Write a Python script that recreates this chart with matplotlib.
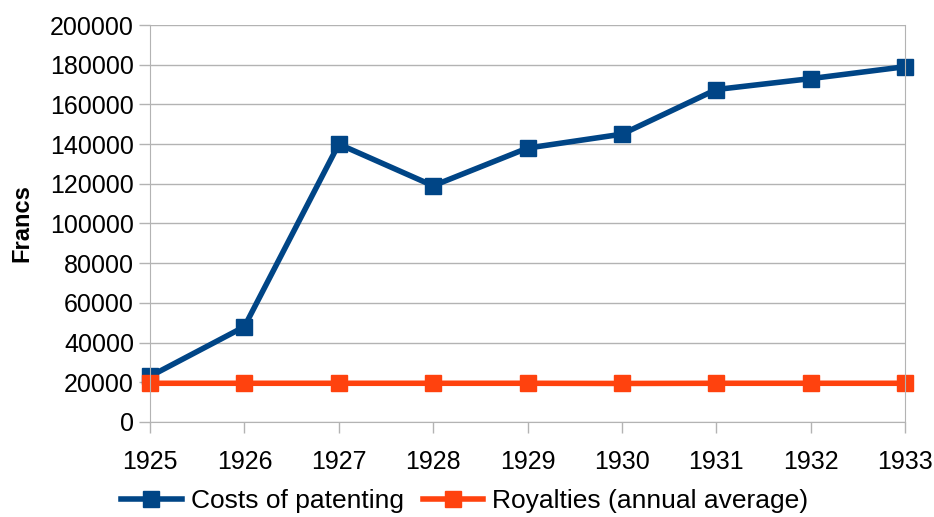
import matplotlib.pyplot as plt

plt.rcParams['font.family'] = ['Liberation Sans', 'DejaVu Sans']

years = [1925, 1926, 1927, 1928, 1929, 1930, 1931, 1932, 1933]
costs = [23000, 48000, 140000, 119000, 138000, 145000, 167500, 173000, 179000]
royalties = [19500, 19500, 19500, 19500, 19500, 19400, 19500, 19500, 19500]

fig = plt.figure(figsize=(9.34, 5.17), dpi=100)
ax = fig.add_axes([0.1606, 0.1838, 0.8084, 0.7678])

ax.plot(years, costs, color='#004586', lw=4, marker='s', ms=11,
        label='Costs of patenting', clip_on=False)
ax.plot(years, royalties, color='#ff420e', lw=4, marker='s', ms=11,
        label='Royalties (annual average)', clip_on=False)

ax.set_xlim(1925, 1933)
ax.set_ylim(0, 200000)
ax.set_xticks(years)
ax.set_yticks(range(0, 200001, 20000))
ax.grid(axis='y', color='#b3b3b3', lw=1)
ax.set_axisbelow(True)
ax.spines['top'].set_visible(False)
for s in ['left', 'bottom', 'right']:
    ax.spines[s].set_color('#b3b3b3')
ax.tick_params(colors='#b3b3b3', labelcolor='black', labelsize=18, length=8, width=1)
ax.tick_params(axis='x', pad=12)
ax.set_ylabel('Francs', fontsize=17, fontweight='bold', labelpad=12)

ax.legend(loc='center', bbox_to_anchor=(0.417, -0.2), ncol=2, frameon=False,
          fontsize=19, handlelength=2.3, columnspacing=0.7, handletextpad=0.35,
          borderpad=0.0)

fig.savefig('out.png')
